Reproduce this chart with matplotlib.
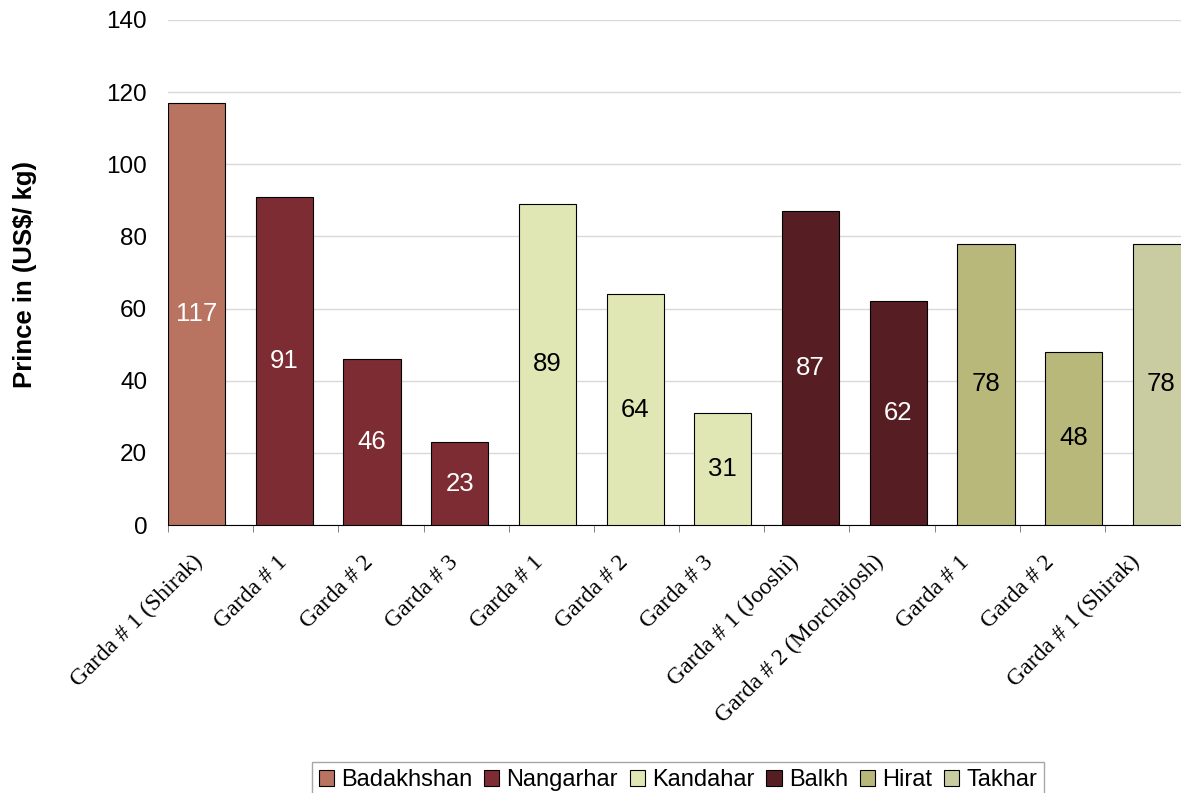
import numpy as np
import matplotlib.pyplot as plt
from matplotlib.patches import Patch

# --- data ---
categories = ["Garda # 1 (Shirak)", "Garda # 1", "Garda # 2", "Garda # 3",
              "Garda # 1", "Garda # 2", "Garda # 3",
              "Garda # 1 (Jooshi)", "Garda # 2 (Morchajosh)",
              "Garda # 1", "Garda # 2", "Garda # 1 (Shirak)"]
provinces = ["Badakhshan", "Nangarhar", "Nangarhar", "Nangarhar",
             "Kandahar", "Kandahar", "Kandahar",
             "Balkh", "Balkh", "Hirat", "Hirat", "Takhar"]
prices = [117, 91, 46, 23, 89, 64, 31, 87, 62, 78, 48, 78]

province_order = ["Badakhshan", "Nangarhar", "Kandahar", "Balkh", "Hirat", "Takhar"]
colors = {
    "Badakhshan": "#B87361",
    "Nangarhar": "#7E2C33",
    "Kandahar": "#E1E7B4",
    "Balkh": "#561E22",
    "Hirat": "#B7B87A",
    "Takhar": "#C8CCA0",
}
label_color = {"Badakhshan": "white", "Nangarhar": "white", "Balkh": "white",
               "Kandahar": "black", "Hirat": "black", "Takhar": "black"}

sans = ["Liberation Sans", "DejaVu Sans"]
serif = ["Liberation Serif", "DejaVu Serif"]

fig = plt.figure(figsize=(11.81, 7.93), dpi=100)
# axes runs slightly past the right edge, like the original
ax = fig.add_axes([168 / 1181, 1 - 525 / 793, 1022 / 1181, 505 / 793])

n = len(prices)
width = 0.67
pitch = (n - width) / (n - 1)
lefts = np.arange(n) * pitch
centers = lefts + width / 2

ax.bar(lefts, prices, width=width, align="edge",
       color=[colors[p] for p in provinces],
       edgecolor="black", linewidth=0.8, zorder=3)

for x, v, p in zip(centers, prices, provinces):
    ax.text(x, v / 2, str(v), ha="center", va="center", fontsize=18.5,
            family=sans, color=label_color[p], zorder=4)

ax.set_xlim(0, n)
ax.set_ylim(0, 140)
ax.set_yticks(np.arange(0, 141, 20))
ax.yaxis.grid(True, color="#D9D9D9", linewidth=1)
ax.set_axisbelow(True)
ax.tick_params(axis="y", length=0, pad=15, labelsize=17.5)
for lab in ax.get_yticklabels():
    lab.set_family(sans)

# category labels sit at category centres, tick marks at boundaries
ax.set_xticks(np.arange(n) + 0.28)
ax.set_xticklabels(categories, rotation=45, ha="right", rotation_mode="anchor",
                   family=serif, fontsize=17)
ax.tick_params(axis="x", length=0, pad=19)
ax.set_xticks(np.arange(0, n + 1), minor=True)
ax.tick_params(axis="x", which="minor", length=5, color="#707070")

for s in ["top", "right", "left"]:
    ax.spines[s].set_visible(False)
ax.spines["bottom"].set_color("black")

fig.text(25 / 1181, 1 - 274 / 793, "Prince in (US$/ kg)", rotation=90,
         ha="center", va="center", fontsize=18.5, fontweight="bold", family=sans)

handles = [Patch(facecolor=colors[p], edgecolor="black", linewidth=0.8, label=p)
           for p in province_order]
leg = fig.legend(handles=handles, loc="upper center", ncol=6,
                 bbox_to_anchor=(678 / 1181, 1 - 762 / 793),
                 prop={"family": sans, "size": 17}, frameon=True, fancybox=False,
                 handlelength=0.65, handleheight=0.65, handletextpad=0.3,
                 columnspacing=0.5, borderpad=0.3, borderaxespad=0)
leg.get_frame().set_edgecolor("#909090")
leg.get_frame().set_linewidth(1)

fig.savefig("out.png", dpi=100)
